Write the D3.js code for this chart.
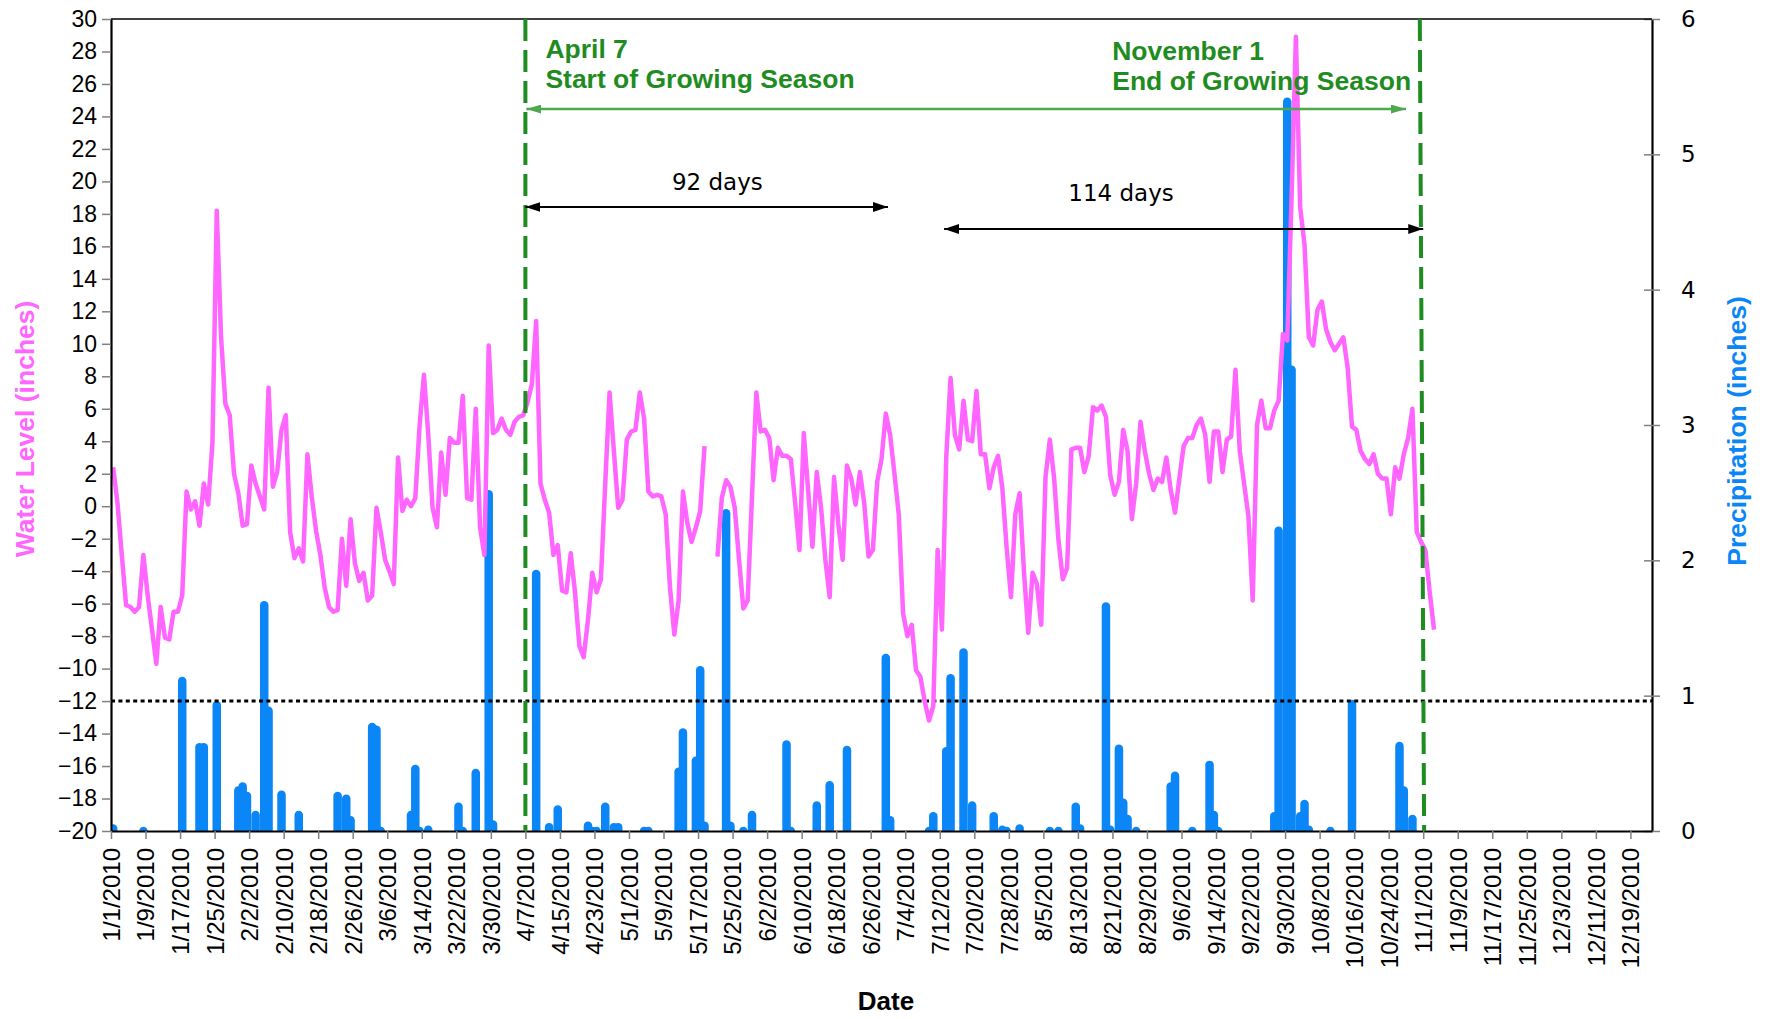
<!DOCTYPE html>
<html>
<head>
<meta charset="utf-8">
<script src="https://cdn.jsdelivr.net/npm/d3@7"></script>
<style>
  html, body { margin: 0; padding: 0; background: #ffffff; }
  svg { display: block; }
</style>
</head>
<body>
<svg id="chart" width="1765" height="1019"></svg>
<script>
// ---- Data -------------------------------------------------------------
// Daily water level (inches), one reading per day starting 1/1/2010; null = missing
const firstDay = "1/1/2010";
const waterLevel = [
  2.4, 0.2, -3.0, -6.1, -6.2, -6.5, -6.2, -3.0, -5.5, -7.6,
  -9.7, -6.2, -8.1, -8.2, -6.5, -6.5, -5.5, 0.9, -0.2, 0.3,
  -1.2, 1.4, 0.1, 3.9, 18.2, 10.4, 6.3, 5.6, 2.0, 0.8,
  -1.2, -1.1, 2.5, 1.4, 0.6, -0.2, 7.3, 1.2, 2.1, 4.7,
  5.6, -1.6, -3.2, -2.6, -3.4, 3.2, 0.6, -1.5, -3.0, -5.0,
  -6.2, -6.5, -6.4, -2.0, -4.9, -0.8, -3.5, -4.6, -4.1, -5.8,
  -5.5, -0.1, -1.6, -3.3, -4.0, -4.8, 3.0, -0.3, 0.4, 0.0,
  0.5, 5.0, 8.1, 4.4, -0.1, -1.3, 3.3, 0.7, 4.2, 3.9,
  3.9, 6.8, 0.5, 0.4, 6.0, -1.3, -3.0, 9.9, 4.5, 4.7,
  5.4, 4.7, 4.4, 5.2, 5.5, 5.6, 6.4, 7.5, 11.4, 1.4,
  0.4, -0.4, -3.0, -2.4, -5.2, -5.3, -2.9, -5.3, -8.6, -9.3,
  -7.0, -4.1, -5.3, -4.5, 1.4, 7.0, 3.4, -0.1, 0.4, 4.1,
  4.6, 4.7, 7.0, 5.4, 0.9, 0.6, 0.7, 0.6, -0.5, -5.0,
  -7.9, -5.8, 0.9, -1.0, -2.2, -1.3, -0.3, 3.7, null, null,
  -3.1, 0.5, 1.6, 1.2, -0.1, -3.3, -6.3, -5.8, 0.6, 7.0,
  4.6, 4.7, 4.2, 1.6, 3.6, 3.1, 3.1, 2.9, 0.2, -2.7,
  4.5, 1.0, -2.5, 2.1, -0.1, -3.3, -5.6, 1.8, -1.1, -3.3,
  2.5, 1.7, 0.1, 2.1, 0.2, -3.1, -2.7, 1.5, 2.9, 5.7,
  4.4, 2.0, -0.5, -6.6, -8.0, -7.3, -10.1, -10.5, -12.0, -13.2,
  -12.3, -2.7, -7.6, 3.0, 7.9, 4.4, 3.5, 6.5, 4.1, 4.0,
  7.1, 3.2, 3.2, 1.1, 2.4, 3.1, 1.1, -2.6, -5.6, -0.5,
  0.8, -4.0, -7.8, -4.1, -4.8, -7.3, 1.8, 4.1, 1.7, -2.1,
  -4.5, -3.8, 3.5, 3.6, 3.6, 2.1, 3.1, 6.1, 5.9, 6.2,
  5.5, 1.9, 0.7, 1.5, 4.7, 3.4, -0.8, 1.4, 5.2, 3.4,
  2.0, 1.0, 1.7, 1.5, 3.0, 1.0, -0.4, 1.7, 3.7, 4.2,
  4.2, 5.0, 5.4, 4.4, 1.5, 4.6, 4.6, 2.1, 4.1, 4.3,
  8.4, 3.4, 1.4, -0.6, -5.8, 5.0, 6.5, 4.8, 4.8, 5.9,
  6.5, 10.6, 10.2, 19.0, 28.9, 18.4, 16.1, 10.4, 9.9, 12.1,
  12.6, 10.9, 10.1, 9.6, 10.0, 10.4, 8.5, 4.9, 4.7, 3.4,
  2.9, 2.6, 3.2, 2.0, 1.7, 1.7, -0.5, 2.4, 1.7, 3.2,
  4.2, 6.0, -1.6, -2.2, -2.7, -5.3, -7.6
];

// Days with recorded precipitation and the amount (inches)
const rainDates = [
  "1/1/2010", "1/8/2010", "1/17/2010", "1/21/2010", "1/22/2010", "1/25/2010", "1/30/2010",
  "1/31/2010", "2/1/2010", "2/3/2010", "2/5/2010", "2/6/2010", "2/9/2010", "2/13/2010",
  "2/22/2010", "2/24/2010", "2/25/2010", "3/2/2010", "3/3/2010", "3/4/2010", "3/11/2010",
  "3/12/2010", "3/13/2010", "3/15/2010", "3/22/2010", "3/23/2010", "3/26/2010", "3/29/2010",
  "3/30/2010", "4/9/2010", "4/12/2010", "4/14/2010", "4/21/2010", "4/22/2010", "4/23/2010",
  "4/25/2010", "4/27/2010", "4/28/2010", "5/4/2010", "5/5/2010", "5/12/2010", "5/13/2010",
  "5/16/2010", "5/17/2010", "5/18/2010", "5/23/2010", "5/24/2010", "5/27/2010", "5/29/2010",
  "6/6/2010", "6/7/2010", "6/13/2010", "6/16/2010", "6/20/2010", "6/29/2010", "6/30/2010",
  "7/9/2010", "7/10/2010", "7/13/2010", "7/14/2010", "7/17/2010", "7/19/2010", "7/24/2010",
  "7/26/2010", "7/27/2010", "7/30/2010", "8/6/2010", "8/8/2010", "8/12/2010", "8/13/2010",
  "8/19/2010", "8/20/2010", "8/22/2010", "8/23/2010", "8/24/2010", "8/26/2010", "9/3/2010",
  "9/4/2010", "9/8/2010", "9/12/2010", "9/13/2010", "9/14/2010", "9/27/2010", "9/28/2010",
  "9/30/2010", "10/1/2010", "10/3/2010", "10/4/2010", "10/5/2010", "10/10/2010", "10/15/2010",
  "10/26/2010", "10/27/2010", "10/29/2010"
];
const rainAmounts = [
  0.05, 0.02, 1.14, 0.65, 0.65, 0.96, 0.33,
  0.36, 0.29, 0.15, 1.70, 0.92, 0.30, 0.15,
  0.29, 0.27, 0.11, 0.80, 0.78, 0.02, 0.15,
  0.49, 0.02, 0.04, 0.21, 0.02, 0.46, 2.52,
  0.08, 1.93, 0.06, 0.19, 0.07, 0.02, 0.02,
  0.21, 0.06, 0.06, 0.02, 0.02, 0.47, 0.76,
  0.55, 1.22, 0.07, 2.38, 0.07, 0.02, 0.15,
  0.67, 0.02, 0.22, 0.37, 0.63, 1.31, 0.11,
  0.01, 0.14, 0.62, 1.16, 1.35, 0.22, 0.14,
  0.04, 0.01, 0.05, 0.01, 0.01, 0.21, 0.05,
  1.69, 0.04, 0.64, 0.24, 0.12, 0.01, 0.36,
  0.44, 0.01, 0.52, 0.15, 0.01, 0.14, 2.25,
  5.42, 3.44, 0.14, 0.23, 0.04, 0.01, 0.97,
  0.66, 0.33, 0.12
];

// Axis ticks
const dateTicks = [
  "1/1/2010", "1/9/2010", "1/17/2010", "1/25/2010", "2/2/2010", "2/10/2010", "2/18/2010",
  "2/26/2010", "3/6/2010", "3/14/2010", "3/22/2010", "3/30/2010", "4/7/2010", "4/15/2010",
  "4/23/2010", "5/1/2010", "5/9/2010", "5/17/2010", "5/25/2010", "6/2/2010", "6/10/2010",
  "6/18/2010", "6/26/2010", "7/4/2010", "7/12/2010", "7/20/2010", "7/28/2010", "8/5/2010",
  "8/13/2010", "8/21/2010", "8/29/2010", "9/6/2010", "9/14/2010", "9/22/2010", "9/30/2010",
  "10/8/2010", "10/16/2010", "10/24/2010", "11/1/2010", "11/9/2010", "11/17/2010",
  "11/25/2010", "12/3/2010", "12/11/2010", "12/19/2010"
];
const levelTicks = [-20, -18, -16, -14, -12, -10, -8, -6, -4, -2, 0, 2, 4, 6, 8, 10, 12, 14, 16, 18, 20, 22, 24, 26, 28, 30];
const rainTicks = [0, 1, 2, 3, 4, 5, 6];

// Reference level and growing season
const thresholdLevel = -12;
const seasonStart = "4/7/2010";
const seasonEnd = "11/1/2010";
const seasonArrowEnd = "10/28/2010";
const spanFirst = { from: "4/7/2010", to: "6/30/2010", label: "92 days" };
const spanSecond = { from: "7/13/2010", to: "11/1/2010", label: "114 days" };

// ---- Helpers ----------------------------------------------------------
const parseDate = s => { const [m, d, y] = s.split("/").map(Number); return new Date(Date.UTC(y, m - 1, d)); };
const noon = dt => d3.utcHour.offset(dt, 12);

// ---- Layout -----------------------------------------------------------
const L = 111, R = 1652, T = 19, B = 831;
const svg = d3.select("#chart");

const x = d3.scaleUtc().domain([parseDate("1/1/2010"), parseDate("12/24/2010")]).range([L, R]);
const yLevel = d3.scaleLinear().domain([-20, 30]).range([B, T]);
const yRain = d3.scaleLinear().domain([0, 6]).range([B, T]);

const MAGENTA = "#ff66ff";
const BLUE = "#0a86f7";
const GREEN = "#1f8c22";
const LIGHTGREEN = "#4ea84e";
const TICKGRAY = "#808080";

svg.append("defs").append("clipPath").attr("id", "plot")
  .append("rect").attr("x", L).attr("y", T).attr("width", R - L).attr("height", B - T);

const defs = svg.select("defs");
function arrowMarker(id, color, len, wid) {
  defs.append("marker").attr("id", id)
    .attr("markerUnits", "userSpaceOnUse")
    .attr("viewBox", `0 0 ${len} ${wid}`)
    .attr("refX", len).attr("refY", wid / 2)
    .attr("markerWidth", len).attr("markerHeight", wid)
    .attr("orient", "auto-start-reverse")
    .append("path").attr("d", `M0,0L${len},${wid / 2}L0,${wid}Z`).attr("fill", color);
}
arrowMarker("arrowBlack", "#000", 15, 10);
arrowMarker("arrowGreen", LIGHTGREEN, 15, 9);

// ---- Precipitation bars -----------------------------------------------
const bars = svg.append("g").attr("clip-path", "url(#plot)");
const capR = 4.25;
bars.selectAll("line").data(rainDates.map((d, i) => ({ date: noon(parseDate(d)), v: rainAmounts[i] })))
  .join("line")
  .attr("x1", d => x(d.date)).attr("x2", d => x(d.date))
  .attr("y1", yRain(0) + 6)
  .attr("y2", d => Math.min(yRain(d.v) + capR, yRain(0)))
  .attr("stroke", BLUE).attr("stroke-width", capR * 2).attr("stroke-linecap", "round");

// ---- Threshold line (dotted) ------------------------------------------
svg.append("line")
  .attr("x1", L).attr("x2", R)
  .attr("y1", yLevel(thresholdLevel)).attr("y2", yLevel(thresholdLevel))
  .attr("stroke", "#000").attr("stroke-width", 3).attr("stroke-dasharray", "4,3.4");

// ---- Water level line --------------------------------------------------
const day0 = parseDate(firstDay);
const levelLine = d3.line()
  .defined(v => v !== null)
  .x((v, i) => x(noon(d3.utcDay.offset(day0, i))))
  .y(v => yLevel(v));
svg.append("path").datum(waterLevel)
  .attr("d", levelLine)
  .attr("fill", "none").attr("stroke", MAGENTA).attr("stroke-width", 4.5)
  .attr("stroke-linejoin", "round").attr("stroke-linecap", "butt");

// ---- Axes ---------------------------------------------------------------
const axisLeft = svg.append("g").attr("transform", `translate(${L},0)`)
  .call(d3.axisLeft(yLevel).tickValues(levelTicks).tickSizeInner(9).tickSizeOuter(0).tickPadding(5));
axisLeft.selectAll(".tick text").attr("font-family", "'Liberation Sans', Arial, sans-serif").attr("font-size", 23).attr("fill", "#000");

const axisRight = svg.append("g").attr("transform", `translate(${R},0)`)
  .call(d3.axisRight(yRain).tickValues(rainTicks).tickFormat(d3.format("d"))
    .tickSizeInner(8).tickSizeOuter(0).tickPadding(21));
axisRight.selectAll(".tick line").attr("x1", -8);
axisRight.selectAll(".tick text").attr("font-family", "'DejaVu Sans', Verdana, sans-serif").attr("font-size", 23).attr("fill", "#000");

const axisBottom = svg.append("g").attr("transform", `translate(0,${B})`)
  .call(d3.axisBottom(x).tickValues(dateTicks.map(parseDate)).tickSizeInner(8).tickSizeOuter(0)
    .tickFormat((d, i) => dateTicks[i]));
axisBottom.selectAll(".tick text")
  .attr("transform", "rotate(-90)")
  .attr("x", -17).attr("y", 0).attr("dy", "0.35em")
  .attr("text-anchor", "end")
  .attr("font-family", "'Liberation Sans', Arial, sans-serif").attr("font-size", 24).attr("fill", "#000");

[axisLeft, axisRight, axisBottom].forEach(a => {
  a.selectAll(".tick line").attr("stroke", TICKGRAY).attr("stroke-width", 1.5);
  a.select(".domain").attr("stroke", "#000").attr("stroke-width", 2.2);
});

// top frame
svg.append("line").attr("x1", L).attr("x2", R).attr("y1", T).attr("y2", T)
  .attr("stroke", "#000").attr("stroke-width", 1.5);

// ---- Growing season markers -------------------------------------------
const seasonLines = [
  { top: parseDate(seasonStart), bottom: parseDate(seasonStart) },
  { top: d3.utcHour.offset(parseDate(seasonEnd), -19), bottom: d3.utcHour.offset(parseDate(seasonEnd), 5) }
];
svg.append("g").selectAll("line").data(seasonLines).join("line")
  .attr("x1", d => x(d.top)).attr("x2", d => x(d.bottom))
  .attr("y1", T).attr("y2", B)
  .attr("stroke", GREEN).attr("stroke-width", 4).attr("stroke-dasharray", "22,9");

// Growing-season span arrow
svg.append("line")
  .attr("x1", x(parseDate(seasonStart)) + 1).attr("x2", x(parseDate(seasonArrowEnd)))
  .attr("y1", 109).attr("y2", 109)
  .attr("stroke", LIGHTGREEN).attr("stroke-width", 2.5)
  .attr("marker-start", "url(#arrowGreen)").attr("marker-end", "url(#arrowGreen)");

const greenText = svg.append("g").attr("fill", GREEN)
  .attr("font-family", "'Liberation Sans', Arial, sans-serif").attr("font-weight", "bold").attr("font-size", 26.5);
greenText.append("text").attr("x", x(parseDate(seasonStart)) + 20).attr("y", 58).text("April 7");
greenText.append("text").attr("x", x(parseDate(seasonStart)) + 20).attr("y", 88).text("Start of Growing Season");
greenText.append("text").attr("x", x(parseDate(seasonEnd)) - 311).attr("y", 60).text("November 1");
greenText.append("text").attr("x", x(parseDate(seasonEnd)) - 311).attr("y", 90).text("End of Growing Season");

// Duration arrows
function spanArrow(span, yLine, yText, textX) {
  svg.append("line")
    .attr("x1", x(parseDate(span.from))).attr("x2", x(parseDate(span.to)))
    .attr("y1", yLine).attr("y2", yLine)
    .attr("stroke", "#000").attr("stroke-width", 2)
    .attr("marker-start", "url(#arrowBlack)").attr("marker-end", "url(#arrowBlack)");
  svg.append("text").attr("x", textX).attr("y", yText)
    .attr("text-anchor", "middle")
    .attr("font-family", "'DejaVu Sans', Verdana, sans-serif").attr("font-size", 23).attr("fill", "#000")
    .text(span.label);
}
spanArrow(spanFirst, 207, 190, x(parseDate("5/21/2010")) + 2);
spanArrow(spanSecond, 229, 201, x(parseDate("8/23/2010")));

// ---- Axis titles --------------------------------------------------------
svg.append("text")
  .attr("transform", "translate(25,429) rotate(-90)").attr("dy", "0.35em")
  .attr("text-anchor", "middle")
  .attr("font-family", "'Liberation Sans', Arial, sans-serif").attr("font-weight", "bold").attr("font-size", 26.5)
  .attr("fill", MAGENTA).text("Water Level (inches)");

svg.append("text")
  .attr("transform", "translate(1737,431) rotate(-90)").attr("dy", "0.35em")
  .attr("text-anchor", "middle")
  .attr("font-family", "'Liberation Sans', Arial, sans-serif").attr("font-weight", "bold").attr("font-size", 26.5)
  .attr("fill", BLUE).text("Precipitation (inches)");

svg.append("text")
  .attr("x", 886).attr("y", 1010)
  .attr("text-anchor", "middle")
  .attr("font-family", "'Liberation Sans', Arial, sans-serif").attr("font-weight", "bold").attr("font-size", 26)
  .attr("fill", "#000").text("Date");
</script>
</body>
</html>
